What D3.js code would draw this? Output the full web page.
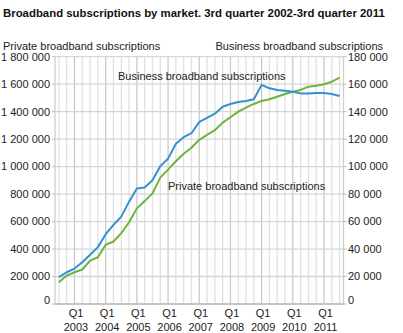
<!DOCTYPE html>
<html>
<head>
<meta charset="utf-8">
<script src="https://cdn.jsdelivr.net/npm/d3@7"></script>
<style>
  html, body { margin: 0; padding: 0; background: #fff; }
  svg { display: block; font-family: "Liberation Sans", Arial, sans-serif; }
</style>
</head>
<body>
<svg id="chart" width="403" height="333"></svg>
<script>
const quarters = [
  "2002Q3","2002Q4",
  "2003Q1","2003Q2","2003Q3","2003Q4",
  "2004Q1","2004Q2","2004Q3","2004Q4",
  "2005Q1","2005Q2","2005Q3","2005Q4",
  "2006Q1","2006Q2","2006Q3","2006Q4",
  "2007Q1","2007Q2","2007Q3","2007Q4",
  "2008Q1","2008Q2","2008Q3","2008Q4",
  "2009Q1","2009Q2","2009Q3","2009Q4",
  "2010Q1","2010Q2","2010Q3","2010Q4",
  "2011Q1","2011Q2","2011Q3"
];
const privateSubs = [
  159000, 207000, 231000, 251000, 316000, 340000, 431000, 455000, 516000, 595000,
  696000, 749000, 805000, 920000, 978000, 1039000, 1094000, 1137000, 1195000, 1231000,
  1265000, 1320000, 1359000, 1400000, 1429000, 1456000, 1478000, 1490000, 1509000, 1528000,
  1545000, 1558000, 1582000, 1589000, 1599000, 1618000, 1647000
];
const businessSubs = [
  19500, 23100, 25800, 30400, 35900, 41400, 50800, 57600, 63600, 74500,
  84100, 84800, 90100, 100200, 105800, 116600, 121400, 124300, 132500, 135500,
  138500, 143600, 145600, 147000, 147800, 149000, 159500, 157000, 155800, 155300,
  154500, 153300, 153300, 153600, 153600, 152800, 151400
];
const leftTicks = [0, 200000, 400000, 600000, 800000, 1000000, 1200000, 1400000, 1600000, 1800000];
const rightTicks = [0, 20000, 40000, 60000, 80000, 100000, 120000, 140000, 160000, 180000];

const title = "Broadband subscriptions by market. 3rd quarter 2002-3rd quarter 2011";
const leftTitle = "Private broadband subscriptions";
const rightTitle = "Business broadband subscriptions";

const svg = d3.select("#chart");
const L = 55, R = 343.5, T = 56.7, B = 304;

const x = d3.scaleBand().domain(quarters).range([L, R]);
const cx = q => x(q) + x.bandwidth() / 2;
const yL = d3.scaleLinear().domain([0, 1800000]).range([B, T]);
const yR = d3.scaleLinear().domain([0, 180000]).range([B, T]);
const fmt = v => d3.format(",")(v).replace(/,/g, " ");

// vertical grid lines
svg.append("g").selectAll("line").data(quarters).join("line")
  .attr("x1", d => cx(d)).attr("x2", d => cx(d))
  .attr("y1", T).attr("y2", B)
  .attr("stroke", d => d.endsWith("Q1") ? "#c9c9c9" : "#e1e1e1")
  .attr("stroke-width", 1.3);

// horizontal grid lines
svg.append("g").selectAll("line").data(leftTicks).join("line")
  .attr("x1", L).attr("x2", R)
  .attr("y1", d => yL(d)).attr("y2", d => yL(d))
  .attr("stroke", "#d6d6d6").attr("stroke-width", 1.3);

// frame lines
svg.append("line").attr("x1", L).attr("x2", L).attr("y1", T).attr("y2", B).attr("stroke", "#cfcfcf").attr("stroke-width", 1.3);
svg.append("line").attr("x1", R).attr("x2", R).attr("y1", T).attr("y2", B).attr("stroke", "#cfcfcf").attr("stroke-width", 1.3);
svg.append("line").attr("x1", L).attr("x2", R).attr("y1", B).attr("y2", B).attr("stroke", "#bdbdbd").attr("stroke-width", 1.3);

// axis ticks
svg.append("g").selectAll("line").data(leftTicks).join("line")
  .attr("x1", L - 3).attr("x2", L)
  .attr("y1", d => yL(d)).attr("y2", d => yL(d))
  .attr("stroke", "#bdbdbd");
svg.append("g").selectAll("line").data(rightTicks).join("line")
  .attr("x1", R).attr("x2", R + 3)
  .attr("y1", d => yR(d)).attr("y2", d => yR(d))
  .attr("stroke", "#bdbdbd");

// left labels
svg.append("g").selectAll("text").data(leftTicks).join("text")
  .attr("x", 50)
  .attr("y", d => yL(d) + (d === 0 ? -3.5 : 0))
  .attr("dy", "0.35em")
  .attr("text-anchor", "end")
  .attr("font-size", 11)
  .attr("fill", "#222")
  .text(fmt);

// right labels
svg.append("g").selectAll("text").data(rightTicks).join("text")
  .attr("x", 348)
  .attr("y", d => yR(d) + (d === 0 ? -3.5 : 0))
  .attr("dy", "0.35em")
  .attr("text-anchor", "start")
  .attr("font-size", 11)
  .attr("fill", "#222")
  .text(fmt);

// x labels
const q1s = quarters.filter(q => q.endsWith("Q1"));
const xl = svg.append("g").selectAll("text").data(q1s).join("text")
  .attr("text-anchor", "middle")
  .attr("font-size", 11)
  .attr("fill", "#222");
xl.append("tspan").attr("x", d => cx(d) + 1.5).attr("y", 317).text("Q1");
xl.append("tspan").attr("x", d => cx(d) + 1.5).attr("y", 330.5).text(d => d.slice(0, 4));

// lines
const lineP = d3.line().x((d, i) => cx(quarters[i])).y(d => yL(d));
const lineB = d3.line().x((d, i) => cx(quarters[i])).y(d => yR(d));
svg.append("path").datum(privateSubs).attr("d", lineP)
  .attr("fill", "none").attr("stroke", "#6cb33f").attr("stroke-width", 2).attr("stroke-linejoin", "round");
svg.append("path").datum(businessSubs).attr("d", lineB)
  .attr("fill", "none").attr("stroke", "#3590cf").attr("stroke-width", 2).attr("stroke-linejoin", "round");

// titles
svg.append("text").attr("x", 3).attr("y", 17)
  .attr("font-size", 11.4).attr("font-weight", "bold").attr("fill", "#111")
  .text(title);
svg.append("text").attr("x", 3).attr("y", 49.5)
  .attr("font-size", 11).attr("fill", "#222").text(leftTitle);
svg.append("text").attr("x", 383).attr("y", 49.5).attr("text-anchor", "end")
  .attr("font-size", 11).attr("fill", "#222").text(rightTitle);

// line labels
svg.append("text").attr("x", 118).attr("y", 80)
  .attr("font-size", 11).attr("fill", "#222").text("Business broadband subscriptions");
svg.append("text").attr("x", 168).attr("y", 190)
  .attr("font-size", 11).attr("fill", "#222").text("Private broadband subscriptions");
</script>
</body>
</html>
